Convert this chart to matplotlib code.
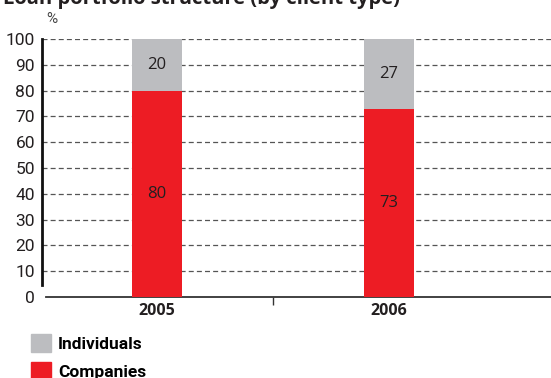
import matplotlib.pyplot as plt
from matplotlib.patches import Patch

# Loan portfolio structure by client type, %
years = ['2005', '2006']
companies = [80, 73]
individuals = [20, 27]

red = '#ED1C24'
grey = '#BCBDC0'
ink = '#231F20'
cond = ['Roboto', 'DejaVu Sans']

fig = plt.figure(figsize=(5.51, 3.78), dpi=100)
ax = fig.add_axes([42 / 551, 81 / 378, 509 / 551, 258 / 378])

x = range(len(years))
ax.bar(x, companies, width=0.215, color=red, zorder=3)
ax.bar(x, individuals, width=0.215, bottom=companies, color=grey, zorder=3)

for i in x:
    ax.text(i, companies[i] / 2, str(companies[i]), ha='center', va='center',
            fontsize=12, color=ink, family='Open Sans', zorder=4)
    ax.text(i, companies[i] + individuals[i] / 2, str(individuals[i]),
            ha='center', va='center', fontsize=12, color=ink,
            family='Open Sans', zorder=4)

ax.set_xlim(-0.496, 1.698)
ax.set_ylim(0, 100)

# dashed grid lines
for v in range(10, 101, 10):
    ax.axhline(v, color='#555555', lw=0.9, ls=(0, (4, 2.5)), zorder=1)

ax.set_yticks(range(0, 101, 10))
ax.set_yticklabels([str(v) for v in range(0, 101, 10)], family=cond,
                   fontsize=12.5, color=ink)
ax.tick_params(axis='y', length=0, pad=5)

ax.set_xticks(list(x))
ax.set_xticklabels(years, fontsize=11.5, fontweight='bold', color=ink,
                   family='Open Sans')
ax.set_xticks([0.5], minor=True)
ax.tick_params(axis='x', which='major', length=0, pad=4)
ax.tick_params(axis='x', which='minor', length=6, width=1, color='#333333')

for s in ['top', 'right']:
    ax.spines[s].set_visible(False)
ax.spines['left'].set_linewidth(2)
ax.spines['left'].set_color('#111111')
ax.spines['left'].set_bounds(4.5, 100)
ax.spines['bottom'].set_linewidth(1.3)
ax.spines['bottom'].set_color('#333333')
ax.spines['bottom'].set_bounds(-0.478, 1.698)

fig.text(52 / 551, 1 - 19 / 378, '%', family=cond, fontsize=11,
         color='#444444', ha='center', va='center')

fig.text(3 / 551, 1 - 4 / 378, 'Loan portfolio structure (by client type)',
         family='Open Sans', fontweight='bold', fontsize=14.5, color=ink,
         ha='left', va='baseline')

handles = [Patch(color=grey, label='Individuals'),
           Patch(color=red, label='Companies')]
fig.legend(handles=handles, loc='upper left',
           bbox_to_anchor=(31 / 551, 1 - 334 / 378), frameon=False,
           prop={'family': cond, 'weight': 'bold', 'size': 12.5},
           handlelength=1.15, handleheight=1.2, handletextpad=0.4,
           labelspacing=0.6, borderpad=0, borderaxespad=0)

fig.savefig('out.png', dpi=100)
